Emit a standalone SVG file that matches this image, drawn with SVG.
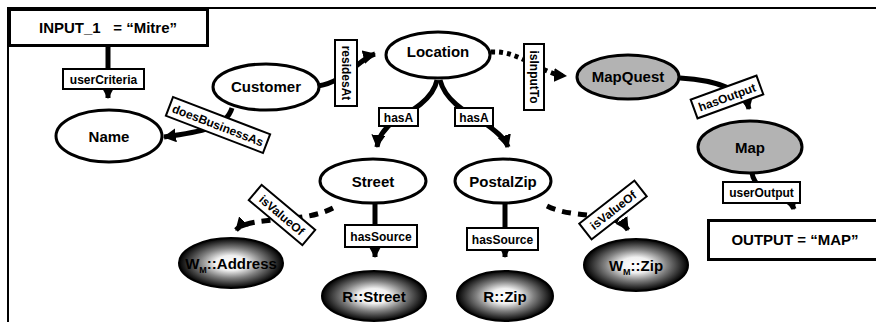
<svg xmlns="http://www.w3.org/2000/svg" width="876" height="322" viewBox="0 0 876 322">
<style>
.frame{stroke:#000;stroke-width:2;fill:none}
.box{fill:#fff;stroke:#000;stroke-width:3}
.node{fill:#fff;stroke:#000;stroke-width:3}
.gray{fill:#b3b3b3;stroke:#000;stroke-width:3}
.dark{fill:url(#rg);stroke:#000;stroke-width:2}
.nt{font-family:"Liberation Sans",Arial,sans-serif;font-weight:bold;font-size:15px;text-anchor:middle;fill:#000}
.bt{font-family:"Liberation Sans",Arial,sans-serif;font-weight:bold;font-size:15px;text-anchor:middle;fill:#000;white-space:pre}
.e{fill:none;stroke:#000;stroke-width:5}
.dot{stroke-dasharray:4 4}
.dash{stroke-dasharray:9 7}
.lb{fill:#fff;stroke:#000;stroke-width:2}
.lt{font-family:"Liberation Sans",Arial,sans-serif;font-weight:bold;font-size:12px;text-anchor:middle;fill:#000}
</style>
<defs>
<radialGradient id="rg" cx="0.5" cy="0.5" r="0.5">
<stop offset="0" stop-color="#fff"/>
<stop offset="0.3" stop-color="#f0f0f0"/>
<stop offset="0.6" stop-color="#808080"/>
<stop offset="1" stop-color="#000"/>
</radialGradient>
<marker id="ah" markerUnits="userSpaceOnUse" markerWidth="14" markerHeight="14" viewBox="0 0 14 14" refX="12" refY="7" orient="auto">
<path d="M0,0 L13,7 L0,14 Z" fill="#000"/>
</marker>
</defs>
<rect width="876" height="322" fill="#fff"/>
<path class="frame" d="M8,322 L8,8 L876,8"/>

<g id="connectors">
<path class="e" d="M108,47 L108,98" marker-end="url(#ah)"/>
<path class="e" d="M232,108 C226,128 200,132 164,137" marker-end="url(#ah)"/>
<path class="e" d="M318,86 C345,82 360,58 375,54" marker-end="url(#ah)"/>
<path class="e dot" d="M491,52 C520,50 540,74 566,76" marker-end="url(#ah)"/>
<path class="e" d="M437,80 C433,100 410,112 395,120 C385,128 378,138 377,147" marker-end="url(#ah)"/>
<path class="e" d="M440,80 C445,100 465,112 480,120 C495,130 505,138 508,147" marker-end="url(#ah)"/>
<path class="e" d="M680,78 C720,80 745,92 749,109" marker-end="url(#ah)"/>
<path class="e" d="M752,173 C755,195 790,195 794,209" marker-end="url(#ah)"/>
<path class="e" d="M375,203 L375,257" marker-end="url(#ah)"/>
<path class="e" d="M505,203 L505,257" marker-end="url(#ah)"/>
<path class="e dash" d="M333,208 C300,225 250,215 236,230" marker-end="url(#ah)"/>
<path class="e dash" d="M547,206 C575,220 615,210 628,230" marker-end="url(#ah)"/>

<g><rect class="lb" x="63" y="69" width="81" height="20"/><text class="lt" x="103.5" y="83.5">userCriteria</text></g>
<g transform="translate(218,125) rotate(21)"><rect class="lb" x="-52" y="-10" width="104" height="20"/><text class="lt" x="0" y="4.5">doesBusinessAs</text></g>
<g transform="translate(346,73) rotate(90)"><rect class="lb" x="-33" y="-11" width="66" height="22"/><text class="lt" x="0" y="4.5">residesAt</text></g>
<g transform="translate(534,77) rotate(90)"><rect class="lb" x="-33" y="-10" width="66" height="20"/><text class="lt" x="0" y="4.5">isInputTo</text></g>
<g><rect class="lb" x="379" y="108" width="39" height="18"/><text class="lt" x="398.5" y="121.5">hasA</text></g>
<g><rect class="lb" x="455" y="108" width="38" height="18"/><text class="lt" x="474" y="121.5">hasA</text></g>
<g transform="translate(727,97) rotate(-20)"><rect class="lb" x="-35" y="-10" width="70" height="20"/><text class="lt" x="0" y="4.5">hasOutput</text></g>
<g><rect class="lb" x="723" y="182" width="77" height="21"/><text class="lt" x="761.5" y="197">userOutput</text></g>
<g><rect class="lb" x="345" y="225" width="72" height="22"/><text class="lt" x="381" y="240.5">hasSource</text></g>
<g><rect class="lb" x="467" y="228" width="71" height="22"/><text class="lt" x="502.5" y="243.5">hasSource</text></g>
<g transform="translate(282,215) rotate(40)"><rect class="lb" x="-35" y="-10" width="70" height="20"/><text class="lt" x="0" y="4.5">isValueOf</text></g>
<g transform="translate(613,210) rotate(-38)"><rect class="lb" x="-35" y="-10" width="70" height="20"/><text class="lt" x="0" y="4.5">isValueOf</text></g>
</g>

<g id="input"><rect class="box" x="9.5" y="9.5" width="198" height="36"/><text class="bt" x="108" y="33" xml:space="preserve">INPUT_1   = “Mitre”</text></g>
<g id="output"><rect class="box" x="708.5" y="220.5" width="180" height="39"/><text class="bt" x="795" y="245">OUTPUT = “MAP”</text></g>

<g id="name"><ellipse class="node" cx="109" cy="136" rx="53" ry="26"/><text class="nt" x="109" y="141.5">Name</text></g>
<g id="customer"><ellipse class="node" cx="266" cy="87" rx="53" ry="23"/><text class="nt" x="266" y="92">Customer</text></g>
<g id="location"><ellipse class="node" cx="438" cy="55" rx="52" ry="23"/><text class="nt" x="438" y="57">Location</text></g>
<g id="mapquest"><ellipse class="gray" cx="628" cy="77" rx="51" ry="22"/><text class="nt" x="628" y="82">MapQuest</text></g>
<g id="map"><ellipse class="gray" cx="750" cy="147" rx="52" ry="26"/><text class="nt" x="750" y="153">Map</text></g>
<g id="street"><ellipse class="node" cx="373" cy="181" rx="53" ry="22"/><text class="nt" x="373" y="187">Street</text></g>
<g id="postalzip"><ellipse class="node" cx="503" cy="181" rx="48" ry="22"/><text class="nt" x="503" y="187">PostalZip</text></g>
<g id="wm-address"><ellipse class="dark" cx="231" cy="263" rx="52" ry="25"/><text class="nt" x="231" y="269" font-size="16">W<tspan font-size="9" dy="4">M</tspan><tspan dy="-4">::Address</tspan></text></g>
<g id="r-street"><ellipse class="dark" cx="374" cy="296" rx="52" ry="25"/><text class="nt" x="374" y="302">R::Street</text></g>
<g id="r-zip"><ellipse class="dark" cx="505" cy="296" rx="48" ry="25"/><text class="nt" x="505" y="302">R::Zip</text></g>
<g id="wm-zip"><ellipse class="dark" cx="636" cy="265" rx="52" ry="26"/><text class="nt" x="636" y="271">W<tspan font-size="9" dy="4">M</tspan><tspan dy="-4">::Zip</tspan></text></g>
</svg>
